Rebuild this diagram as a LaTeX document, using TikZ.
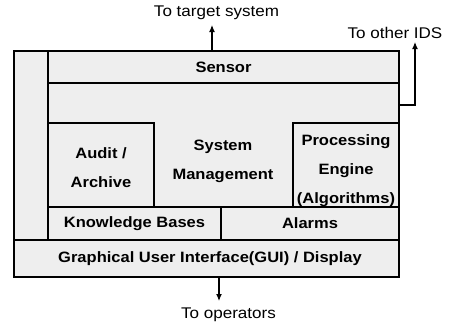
\documentclass[tikz,border=0pt]{standalone}
\usepackage{fontspec}
\setmainfont{Liberation Sans}[FakeStretch=1.1]
\usetikzlibrary{arrows.meta}
\begin{document}
\begin{tikzpicture}[x=1pt,y=-1pt,
  blk/.style={draw, line width=1.1pt, fill=gray!13, inner sep=0pt},
  btxt/.style={font=\fontsize{15}{29}\selectfont\bfseries, align=center, inner sep=0pt},
  otxt/.style={font=\fontsize{15.5}{18}\selectfont, inner sep=1pt},
  arr/.style={line width=1.1pt, -{Latex[length=7pt,width=6pt]}}]
\useasboundingbox (0,0) rectangle (458,324);
% containers
\node[blk, minimum width=385pt, minimum height=226pt] (outer) at (206.5,164) {};
\node[blk, minimum width=351pt, minimum height=189pt] (inner) at (223.5,145.5) {};
% blocks
\node[blk, minimum width=351pt, minimum height=32pt] (sensor) at (223.5,67) {};
\node[btxt] at (sensor.center) {Sensor};
\node[blk, minimum width=106pt, minimum height=84pt] (audit) at (101,165) {};
\node[btxt] at (101,168) {Audit /\\Archive};
\node[blk, minimum width=106pt, minimum height=84pt] (proc) at (346,165) {};
\node[btxt] at (346,171) {Processing\\Engine\\(Algorithms)};
\node[btxt] (sysm) at (223,161) {System\\Management};
\node[blk, minimum width=173pt, minimum height=33pt] (kb) at (134.5,223.5) {};
\node[btxt] at (kb.center) {Knowledge Bases};
\node[blk, minimum width=178pt, minimum height=33pt] (alarms) at (310,223.5) {};
\node[btxt] at (alarms.center) {Alarms};
\node[blk, minimum width=385pt, minimum height=37pt] (gui) at (206.5,258.5) {};
\node[btxt] at (210,259) {Graphical User Interface(GUI) / Display};
% outside labels
\node[otxt] (ttgt) at (216.5,13) {To target system};
\node[otxt] (tids) at (395,33) {To other IDS};
\node[otxt] (tops) at (228.5,315) {To operators};
% connectors
\coordinate (tgtend) at (212,25);
\coordinate (idsend) at (415,42);
\coordinate (opsend) at (219,301);
\draw[arr] (tgtend |- sensor.north) -- (tgtend);
\draw[arr] (inner.east |- 0,105) -| (idsend);
\draw[arr] (opsend |- gui.south) -- (opsend);
\end{tikzpicture}
\end{document}
